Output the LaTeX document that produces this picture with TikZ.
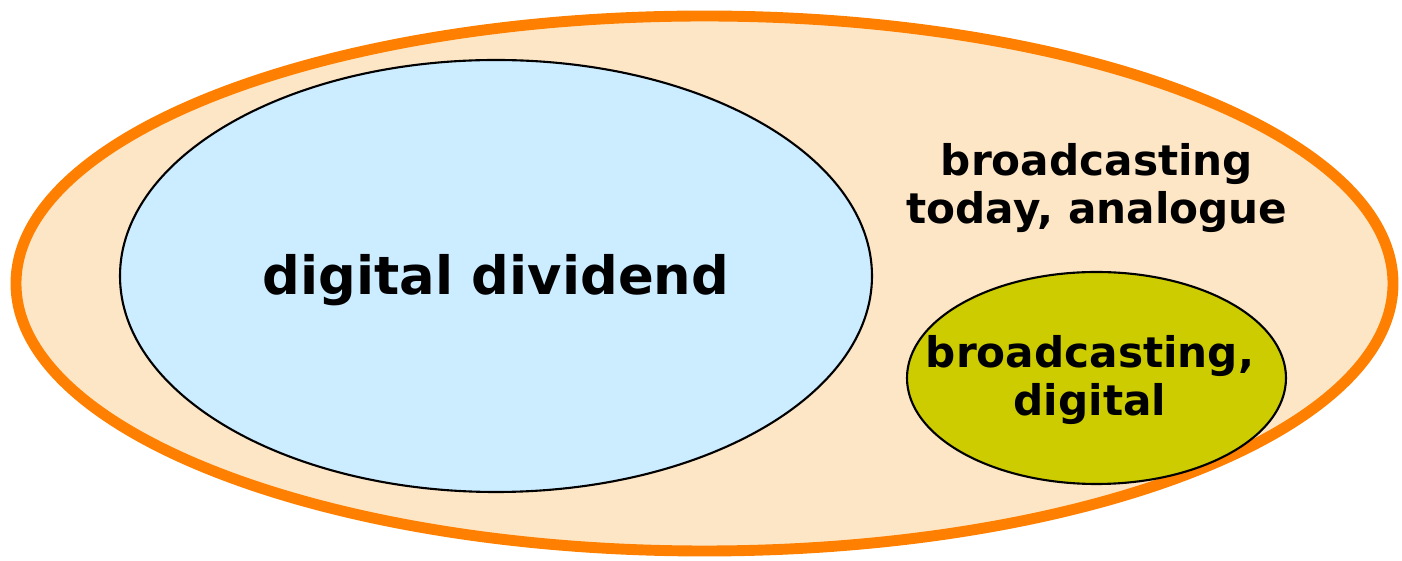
\documentclass[tikz,border=0pt]{standalone}
\usepackage{fontspec}
\setmainfont{DejaVu Sans}
\usetikzlibrary{positioning}

\definecolor{rimorange}{HTML}{FF8000}
\definecolor{peach}{HTML}{FDE6C6}
\definecolor{skyblue}{HTML}{CCECFF}
\definecolor{olivegreen}{HTML}{CCCC00}

\tikzset{
    label text/.style={font=\bfseries\fontsize{12}{13.6}\selectfont, align=center},
    big text/.style={font=\bfseries\fontsize{15}{18}\selectfont, align=center}
}

\begin{document}
\begin{tikzpicture}[x=0.01cm,y=-0.01cm]
    \useasboundingbox (0,0) rectangle (1402,561);
    \draw[rimorange, line width=3.1pt, fill=peach] (704.5,283.5) ellipse [x radius=688.5, y radius=267.5];
    \draw[line width=0.6pt, fill=skyblue] (496,276) ellipse [x radius=376, y radius=216];
    \draw[line width=0.6pt, fill=olivegreen] (1096.5,378) ellipse [x radius=189.5, y radius=106];
    \node[big text] (dividend) at (496,280) {digital dividend};
    \node[label text] (analogue) at (1097,188) {broadcasting\\today, analogue};
    \node[label text] (digital) at (1090,380) {broadcasting,\\digital};
\end{tikzpicture}
\end{document}
